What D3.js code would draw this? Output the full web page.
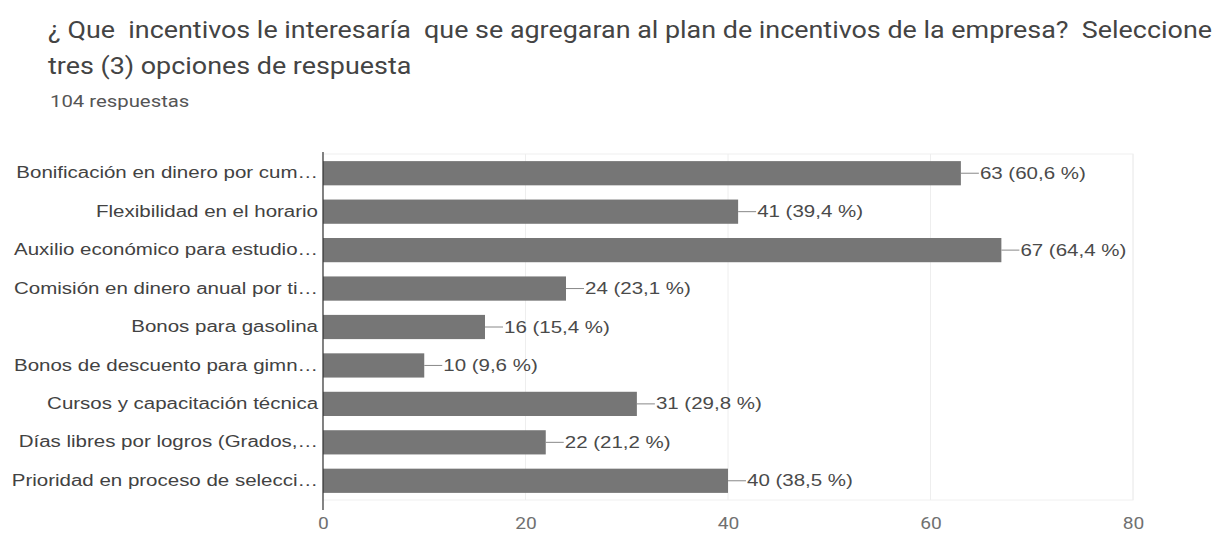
<!DOCTYPE html>
<html>
<head>
<meta charset="utf-8">
<script src="https://cdn.jsdelivr.net/npm/d3@7"></script>
<style>
  body { margin: 0; background: #fff; }
  svg { display: block; }
</style>
</head>
<body>
<script>
// data
const categories = [
  "Bonificación en dinero por cum…",
  "Flexibilidad en el horario",
  "Auxilio económico para estudio…",
  "Comisión en dinero anual por ti…",
  "Bonos para gasolina",
  "Bonos de descuento para gimn…",
  "Cursos y capacitación técnica",
  "Días libres por logros (Grados,…",
  "Prioridad en proceso de selecci…"
]
const counts = [63, 41, 67, 24, 16, 10, 31, 22, 40]
const percents = ["60,6", "39,4", "64,4", "23,1", "15,4", "9,6", "29,8", "21,2", "38,5"]
const xTicks = [0, 20, 40, 60, 80]

const titleLines = [
  "¿ Que  incentivos le interesaría  que se agregaran al plan de incentivos de la empresa?  Seleccione",
  "tres (3) opciones de respuesta"
]
const subtitle = "104 respuestas"

const w = 1224
const h = 533
const plotLeft = 323, plotRight = 1133, plotTop = 154, plotBottom = 500

// the screenshot is a bit wider than normal text, so widen glyphs to fit
function stretch(sel, k) {
  sel.each(function () {
    const len = this.getComputedTextLength()
    d3.select(this)
      .attr("textLength", len * k)
      .attr("lengthAdjust", "spacingAndGlyphs")
  })
}

const svg = d3.select("body")
  .append("svg")
  .attr("width", w)
  .attr("height", h)

// title
svg.selectAll("text.title")
  .data(titleLines)
  .enter()
  .append("text")
  .attr("class", "title")
  .attr("x", 48)
  .attr("y", (d, i) => 38 + i * 36)
  .attr("font-family", "Roboto, sans-serif")
  .attr("font-size", 24)
  .attr("fill", "#444")
  .style("white-space", "pre")
  .text(d => d)
  .call(stretch, 1.12)

svg.append("text")
  .attr("x", 50)
  .attr("y", 107)
  .attr("font-family", "Roboto, sans-serif")
  .attr("font-size", 16)
  .attr("fill", "#555")
  .text(subtitle)
  .call(stretch, 1.27)

// scales
const xScale = d3.scaleLinear().domain([0, 80]).range([plotLeft, plotRight])
const yScale = d3.scaleBand().domain(categories).range([plotTop, plotBottom]).paddingInner(0.37).paddingOuter(0.185)

// frame + grid
svg.append("rect")
  .attr("x", plotLeft).attr("y", plotTop)
  .attr("width", plotRight - plotLeft).attr("height", plotBottom - plotTop)
  .attr("fill", "none").attr("stroke", "#f0f0f0")

svg.selectAll("line.grid")
  .data(xTicks.slice(1))
  .enter()
  .append("line")
  .attr("class", "grid")
  .attr("x1", d => xScale(d)).attr("x2", d => xScale(d))
  .attr("y1", plotTop).attr("y2", plotBottom)
  .attr("stroke", "#eeeeee")

// x axis labels
const xAxis = d3.axisBottom(xScale).tickValues(xTicks).tickSize(0).tickPadding(0)
const gx = svg.append("g")
  .attr("transform", "translate(0," + (plotBottom + 18) + ")")
  .call(xAxis)
gx.select(".domain").remove()
gx.selectAll("text")
  .attr("font-family", "Roboto, sans-serif")
  .attr("font-size", 16)
  .attr("fill", "#707070")
  .call(stretch, 1.2)

// bars
svg.selectAll("rect.bar")
  .data(categories)
  .enter()
  .append("rect")
  .attr("class", "bar")
  .attr("x", plotLeft)
  .attr("y", d => yScale(d))
  .attr("width", (d, i) => xScale(counts[i]) - plotLeft)
  .attr("height", yScale.bandwidth())
  .attr("fill", "#767676")

// category labels
const yAxis = d3.axisLeft(yScale).tickSize(0).tickPadding(5)
const gy = svg.append("g")
  .attr("transform", "translate(" + plotLeft + ",0)")
  .call(yAxis)
gy.select(".domain").remove()
gy.selectAll("text")
  .attr("font-family", "'Liberation Sans', Arial, sans-serif")
  .attr("font-size", 16)
  .attr("fill", "#424242")
  .call(stretch, 1.28)

// left axis line
svg.append("line")
  .attr("x1", plotLeft).attr("x2", plotLeft)
  .attr("y1", plotTop - 2).attr("y2", plotBottom + 10)
  .attr("stroke", "#333").attr("stroke-width", 1.2)

// value labels
const vals = svg.selectAll("g.val")
  .data(categories)
  .enter()
  .append("g")
  .attr("class", "val")
  .attr("transform", (d, i) => "translate(" + xScale(counts[i]) + "," + (yScale(d) + yScale.bandwidth() / 2) + ")")

vals.append("line")
  .attr("x1", 0).attr("x2", 18)
  .attr("stroke", "#888").attr("stroke-width", 1)

vals.append("text")
  .attr("x", 19)
  .attr("dy", "0.35em")
  .attr("font-family", "'Liberation Sans', Arial, sans-serif")
  .attr("font-size", 16)
  .attr("fill", "#4a4a4a")
  .text((d, i) => counts[i] + " (" + percents[i] + " %)")
  .call(stretch, 1.28)
</script>
</body>
</html>
